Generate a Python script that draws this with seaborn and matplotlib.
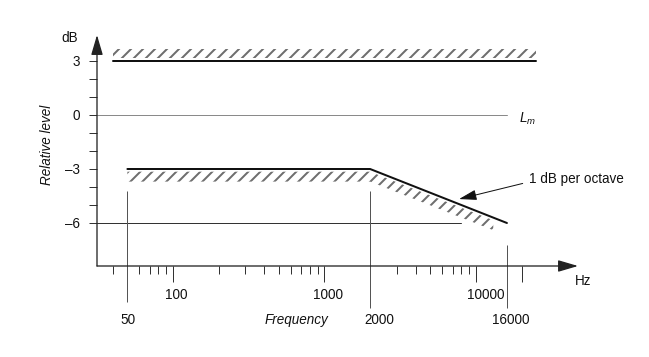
import numpy as np
import pandas as pd
import matplotlib
matplotlib.use("Agg")
import matplotlib.pyplot as plt
from matplotlib.ticker import NullFormatter
import seaborn as sns

sns.set_theme(style="white")
plt.rcParams["font.family"] = ["Liberation Sans", "DejaVu Sans"]
plt.rcParams["mathtext.fontset"] = "custom"
plt.rcParams["mathtext.it"] = "Liberation Sans:italic"
plt.rcParams["mathtext.rm"] = "Liberation Sans"
plt.rcParams["hatch.linewidth"] = 2.0

# values
upper_freq = [40, 25000]
upper_level = [3, 3]
lower_freq = [50, 2000, 16000]
lower_level = [-3, -3, -6]
lower_hatch_freq = [50, 2000, 13000]
lower_hatch_level = [-3, -3, -5.7]
zero_end = 16000
minus6_end = 8000
marker_freq = [50, 2000, 16000]
marker_top = [-4.2, -4.2, -7.2]
marker_bottom = [-10.4, -10.7, -10.7]
marker_labels = ["50", "2000", "16000"]

ytick_vals = [-6, -3, 0, 3]
ytick_labels = ["\u20136", "\u20133", "0", "3"]
ytick_minor = [-5, -4, -2, -1, 1, 2]
xtick_major = [100, 1000, 10000, 20000]
xtick_minor = [40, 60, 70, 80, 90, 200, 300, 400, 500, 600, 700, 800, 900,
               3000, 4000, 5000, 6000, 7000, 8000, 9000]
xlabel_freq = [100, 1000, 10000]
xlabel_text = ["100", "1000", "10000"]

arrow_tip = (7730, -4.67)
arrow_text = (22400, -3.56)

# figure in pixels (dpi 72 so 1pt = 1px)
W, H, DPI = 649, 357, 72
fig = plt.figure(figsize=(W / DPI, H / DPI), dpi=DPI)
ax = fig.add_axes([97 / W, (H - 266) / H, (578 - 97) / W, (266 - 35) / H])
ax.set_xscale("log")
xmin = 10 ** (2 + (97 - 173) / 151.5)
ax.set_xlim(xmin, 10 ** (2 + (578 - 173) / 151.5))
ax.set_ylim((115 - 266) / 18, (115 - 35) / 18)
for s in ax.spines.values():
    s.set_visible(False)

hatch_col = "#6e6e6e"
# hatched tolerance bands
ax.fill_between(upper_freq, [v + 0.15 for v in upper_level], [v + 0.65 for v in upper_level],
                facecolor="none", edgecolor=hatch_col, hatch="//", linewidth=0)
ax.fill_between(lower_hatch_freq, [v - 0.15 for v in lower_hatch_level],
                [v - 0.7 for v in lower_hatch_level],
                facecolor="none", edgecolor=hatch_col, hatch="//", linewidth=0)

# reference lines
sns.lineplot(x=[xmin, zero_end], y=[0, 0], ax=ax, color="#8a8a8a", linewidth=1)
sns.lineplot(x=[xmin, minus6_end], y=[-6, -6], ax=ax, color="#333333", linewidth=1)
ax.vlines(marker_freq, marker_bottom, marker_top, colors="#555555", linewidth=1, clip_on=False)

# limit curves
sns.lineplot(x=upper_freq, y=upper_level, ax=ax, color="#111111", linewidth=2)
sns.lineplot(x=lower_freq, y=lower_level, ax=ax, color="#111111", linewidth=2)

# axis arrows
for tip in [(0, 1), (1, 0)]:
    ax.annotate("", xy=tip, xytext=(0, 0), xycoords="axes fraction",
                arrowprops=dict(arrowstyle="-|>,head_length=0.85,head_width=0.25",
                                mutation_scale=20, color="#222222", lw=1.3,
                                shrinkA=0, shrinkB=0))

# ticks
ax.set_yticks(ytick_vals, ytick_labels)
ax.set_yticks(ytick_minor, minor=True)
ax.set_xticks(xtick_major)
ax.set_xticks(xtick_minor, minor=True)
ax.xaxis.set_major_formatter(NullFormatter())
ax.xaxis.set_minor_formatter(NullFormatter())
ax.tick_params(axis="y", which="both", direction="out", length=8, width=1,
               color="#333333", left=True, pad=9, labelsize=13.5, labelcolor="#111111")
ax.tick_params(axis="x", which="major", direction="out", length=16, width=1,
               color="#333333", bottom=True)
ax.tick_params(axis="x", which="minor", direction="out", length=8, width=1,
               color="#333333", bottom=True)

for f, lab, dx in zip(xlabel_freq, xlabel_text, [3, 4, 10]):
    ax.annotate(lab, xy=(f, 0), xycoords=ax.get_xaxis_transform(), xytext=(dx, -29),
                textcoords="offset points", ha="center", va="center", fontsize=13.5,
                color="#111111")
for f, lab, dx in zip(marker_freq, marker_labels, [1, 9, 4]):
    ax.annotate(lab, xy=(f, 0), xycoords=ax.get_xaxis_transform(), xytext=(dx, -54),
                textcoords="offset points", ha="center", va="center", fontsize=13.5,
                color="#111111")

# annotation
ax.annotate("1 dB per octave", xy=arrow_tip, xytext=arrow_text, ha="left", va="center",
            fontsize=13.5, color="#111111",
            arrowprops=dict(arrowstyle="-|>,head_length=0.75,head_width=0.22",
                            mutation_scale=20, color="#111111", lw=1,
                            relpos=(0, 0.3), shrinkA=4, shrinkB=0))

# axis titles
fig.text(70 / W, 1 - 38 / H, "dB", ha="center", va="center", fontsize=13.5, color="#111111")
fig.text(583 / W, 1 - 281 / H, "Hz", ha="center", va="center", fontsize=13.5, color="#111111")
fig.text(47 / W, 1 - 145 / H, "Relative level", rotation=90, style="italic",
         ha="center", va="center", fontsize=13.5, color="#111111")
fig.text(296 / W, 1 - 320 / H, "Frequency", style="italic", ha="center", va="center",
         fontsize=13.5, color="#111111")
fig.text(519 / W, 1 - 119 / H, r"$L_m$", ha="left", va="center", fontsize=13.5,
         color="#111111")

fig.savefig("out.png", dpi=DPI)
